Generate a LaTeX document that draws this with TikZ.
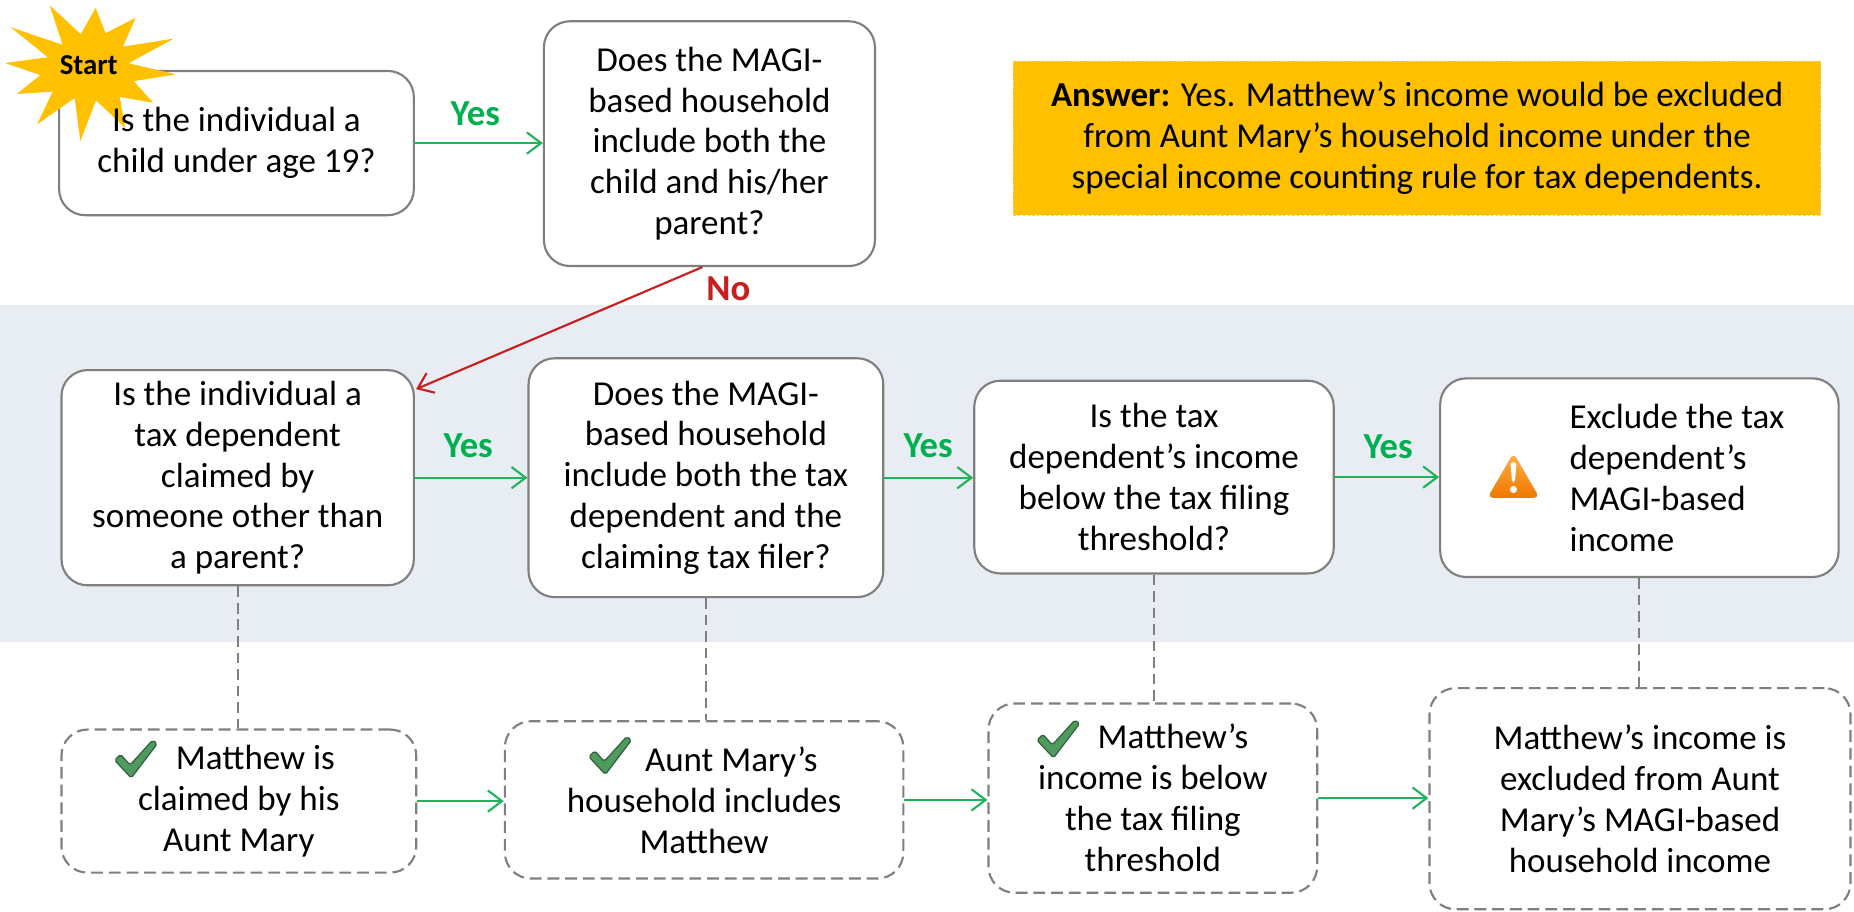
\documentclass[tikz,border=0pt]{standalone}
\usepackage{fontspec}
\setmainfont{Carlito}
\usetikzlibrary{arrows.meta,calc}
\definecolor{bandc}{HTML}{E8ECF3}
\definecolor{gr}{HTML}{00B050}
\definecolor{grl}{HTML}{21B35A}
\definecolor{rd}{HTML}{C81E1E}
\definecolor{starc}{HTML}{FFC000}
\definecolor{bordc}{HTML}{7F7F7F}
\definecolor{chkc}{HTML}{4F9A5E}
\definecolor{chkd}{HTML}{2E5E3A}
\definecolor{wtop}{HTML}{FFB347}
\definecolor{wbot}{HTML}{EE7700}
\definecolor{ansb}{HTML}{F2D27A}
\newcommand\qfont{\fontsize{14.8}{17.3}\selectfont}
\newcommand\lfont{\bfseries\fontsize{15.5}{18}\selectfont}
\newcommand\chkmark[1]{\filldraw[fill=chkc, draw=chkd, line width=0.5pt, rounded corners=0.8pt, shift={#1}] (0,17) -- (5,12) -- (13,21) -- (32,0) -- (36,3) -- (14,32) -- cycle;}
\tikzset{
  qbox/.style={draw=bordc, line width=0.9pt, fill=white, rounded corners=11pt, align=center, inner sep=0pt, font=\qfont},
  dbox/.style={qbox, dash pattern=on 5pt off 2.5pt},
  yarr/.style={draw=grl, line width=0.9pt, -{Straight Barb[length=6pt,width=9pt]}},
  rarr/.style={draw=rd, line width=0.9pt, -{Straight Barb[length=6pt,width=9pt]}},
  dline/.style={draw=bordc, line width=0.9pt, dash pattern=on 4.5pt off 2.5pt},
  ylab/.style={font=\lfont, text=gr, inner sep=0pt},
}
\begin{document}
\begin{tikzpicture}[x=0.5pt, y=-0.5pt]
\useasboundingbox (0,0) rectangle (1568,771);
\fill[bandc] (0,258) rectangle (1568,543);

% top row
\node[qbox, minimum width=150pt, minimum height=61pt] (A) at (200,121) {};
\fill[starc] plot[samples at={0,...,23}, variable=\k]
  ({75+(mod(\k,2)==0 ? 74 : 38)*(1+0.1*sin(\k*137))*cos(\k*15+5)},
   {58+(mod(\k,2)==0 ? 56 : 29)*(1+0.1*sin(\k*137))*sin(\k*15+5)}) -- cycle;
\node[font=\bfseries\fontsize{12.2}{14}\selectfont, inner sep=0pt] (st) at (75,55) {Start};
\node[font=\qfont, align=center, inner sep=0pt] (At) at (A.center) {Is the individual a\\child under age 19?};

\node[qbox, minimum width=140pt, minimum height=103.5pt] (B) at (600,121.5)
  {Does the MAGI-\\based household\\include both the\\child and his/her\\parent?};

\node[fill=starc, draw=ansb, line width=0.4pt, dash pattern=on 1pt off 1pt, minimum width=341.5pt, minimum height=65pt, align=center, font=\qfont, inner sep=0pt] (ans) at (1198.5,117)
  {\textbf{Answer:} Yes. Matthew’s income would be excluded\\from Aunt Mary’s household income under the\\special income counting rule for tax dependents.};

% middle row
\node[qbox, minimum width=149pt, minimum height=91pt] (C) at (201,404)
  {Is the individual a\\tax dependent\\claimed by\\someone other than\\a parent?};
\node[qbox, minimum width=150pt, minimum height=101pt] (D) at (597,404)
  {Does the MAGI-\\based household\\include both the tax\\dependent and the\\claiming tax filer?};
\node[qbox, minimum width=152pt, minimum height=81.5pt] (E) at (976,403.5)
  {Is the tax\\dependent’s income\\below the tax filing\\threshold?};
\node[qbox, minimum width=168.5pt, minimum height=84pt] (F) at (1386.5,404) {};
\node[font=\qfont, align=left, anchor=west, inner sep=0pt] (Ft) at (1327,404)
  {Exclude the tax\\dependent’s\\MAGI-based\\income};
% warning icon
\shade[top color=wtop, bottom color=wbot, rounded corners=2.5pt] (1258,421) -- (1280,383) -- (1302,421) -- cycle;
\fill[white, rounded corners=0.8pt] (1277.4,391) -- (1282.6,391) -- (1281.2,408) -- (1278.8,408) -- cycle;
\fill[white] (1280,414) circle (1.5pt);

% bottom row
\node[dbox, minimum width=150pt, minimum height=60.5pt] (G) at (202,677.5)
  {\hspace*{14pt}Matthew is\\claimed by his\\Aunt Mary};
\node[dbox, minimum width=168.5pt, minimum height=66.5pt] (H) at (595.5,676.5)
  {\hspace*{23pt}Aunt Mary’s\\household includes\\Matthew};
\node[dbox, minimum width=139pt, minimum height=80pt] (I) at (975,675)
  {\hspace*{17pt}Matthew’s\\income is below\\the tax filing\\threshold};
\node[dbox, minimum width=178pt, minimum height=93.5pt] (J) at (1387,675.5)
  {Matthew’s income is\\excluded from Aunt\\Mary’s MAGI-based\\household income};
\chkmark{(97,626)}
\chkmark{(498,623)}
\chkmark{(877,609)}

% connectors
\draw[yarr] (A.east) -- (A.east -| B.west);
\node[ylab] (y1) at (402,96) {Yes};
\draw[rarr] ($(B.south)+(-6,0)$) -- ($(C.north east)+(1,17)$);
\node[ylab, text=rd] (no) at (616,244) {No};

\draw[yarr] (C.east) -- (C.east -| D.west);
\node[ylab] (y2) at (396,377) {Yes};
\draw[yarr] (D.east) -- (D.east -| E.west);
\node[ylab] (y3) at (785,377) {Yes};
\draw[yarr] (E.east) -- (E.east -| F.west);
\node[ylab] (y4) at (1174,378) {Yes};

\draw[dline] (C.south) -- (C.south |- G.north);
\draw[dline] (D.south) -- (D.south |- H.north);
\draw[dline] (E.south) -- (E.south |- I.north);
\draw[dline] (F.south) -- (F.south |- J.north);

\draw[yarr] (G.east) -- (G.east -| H.west);
\draw[yarr] (H.east) -- (H.east -| I.west);
\draw[yarr] (I.east) -- (I.east -| J.west);
\end{tikzpicture}
\end{document}
